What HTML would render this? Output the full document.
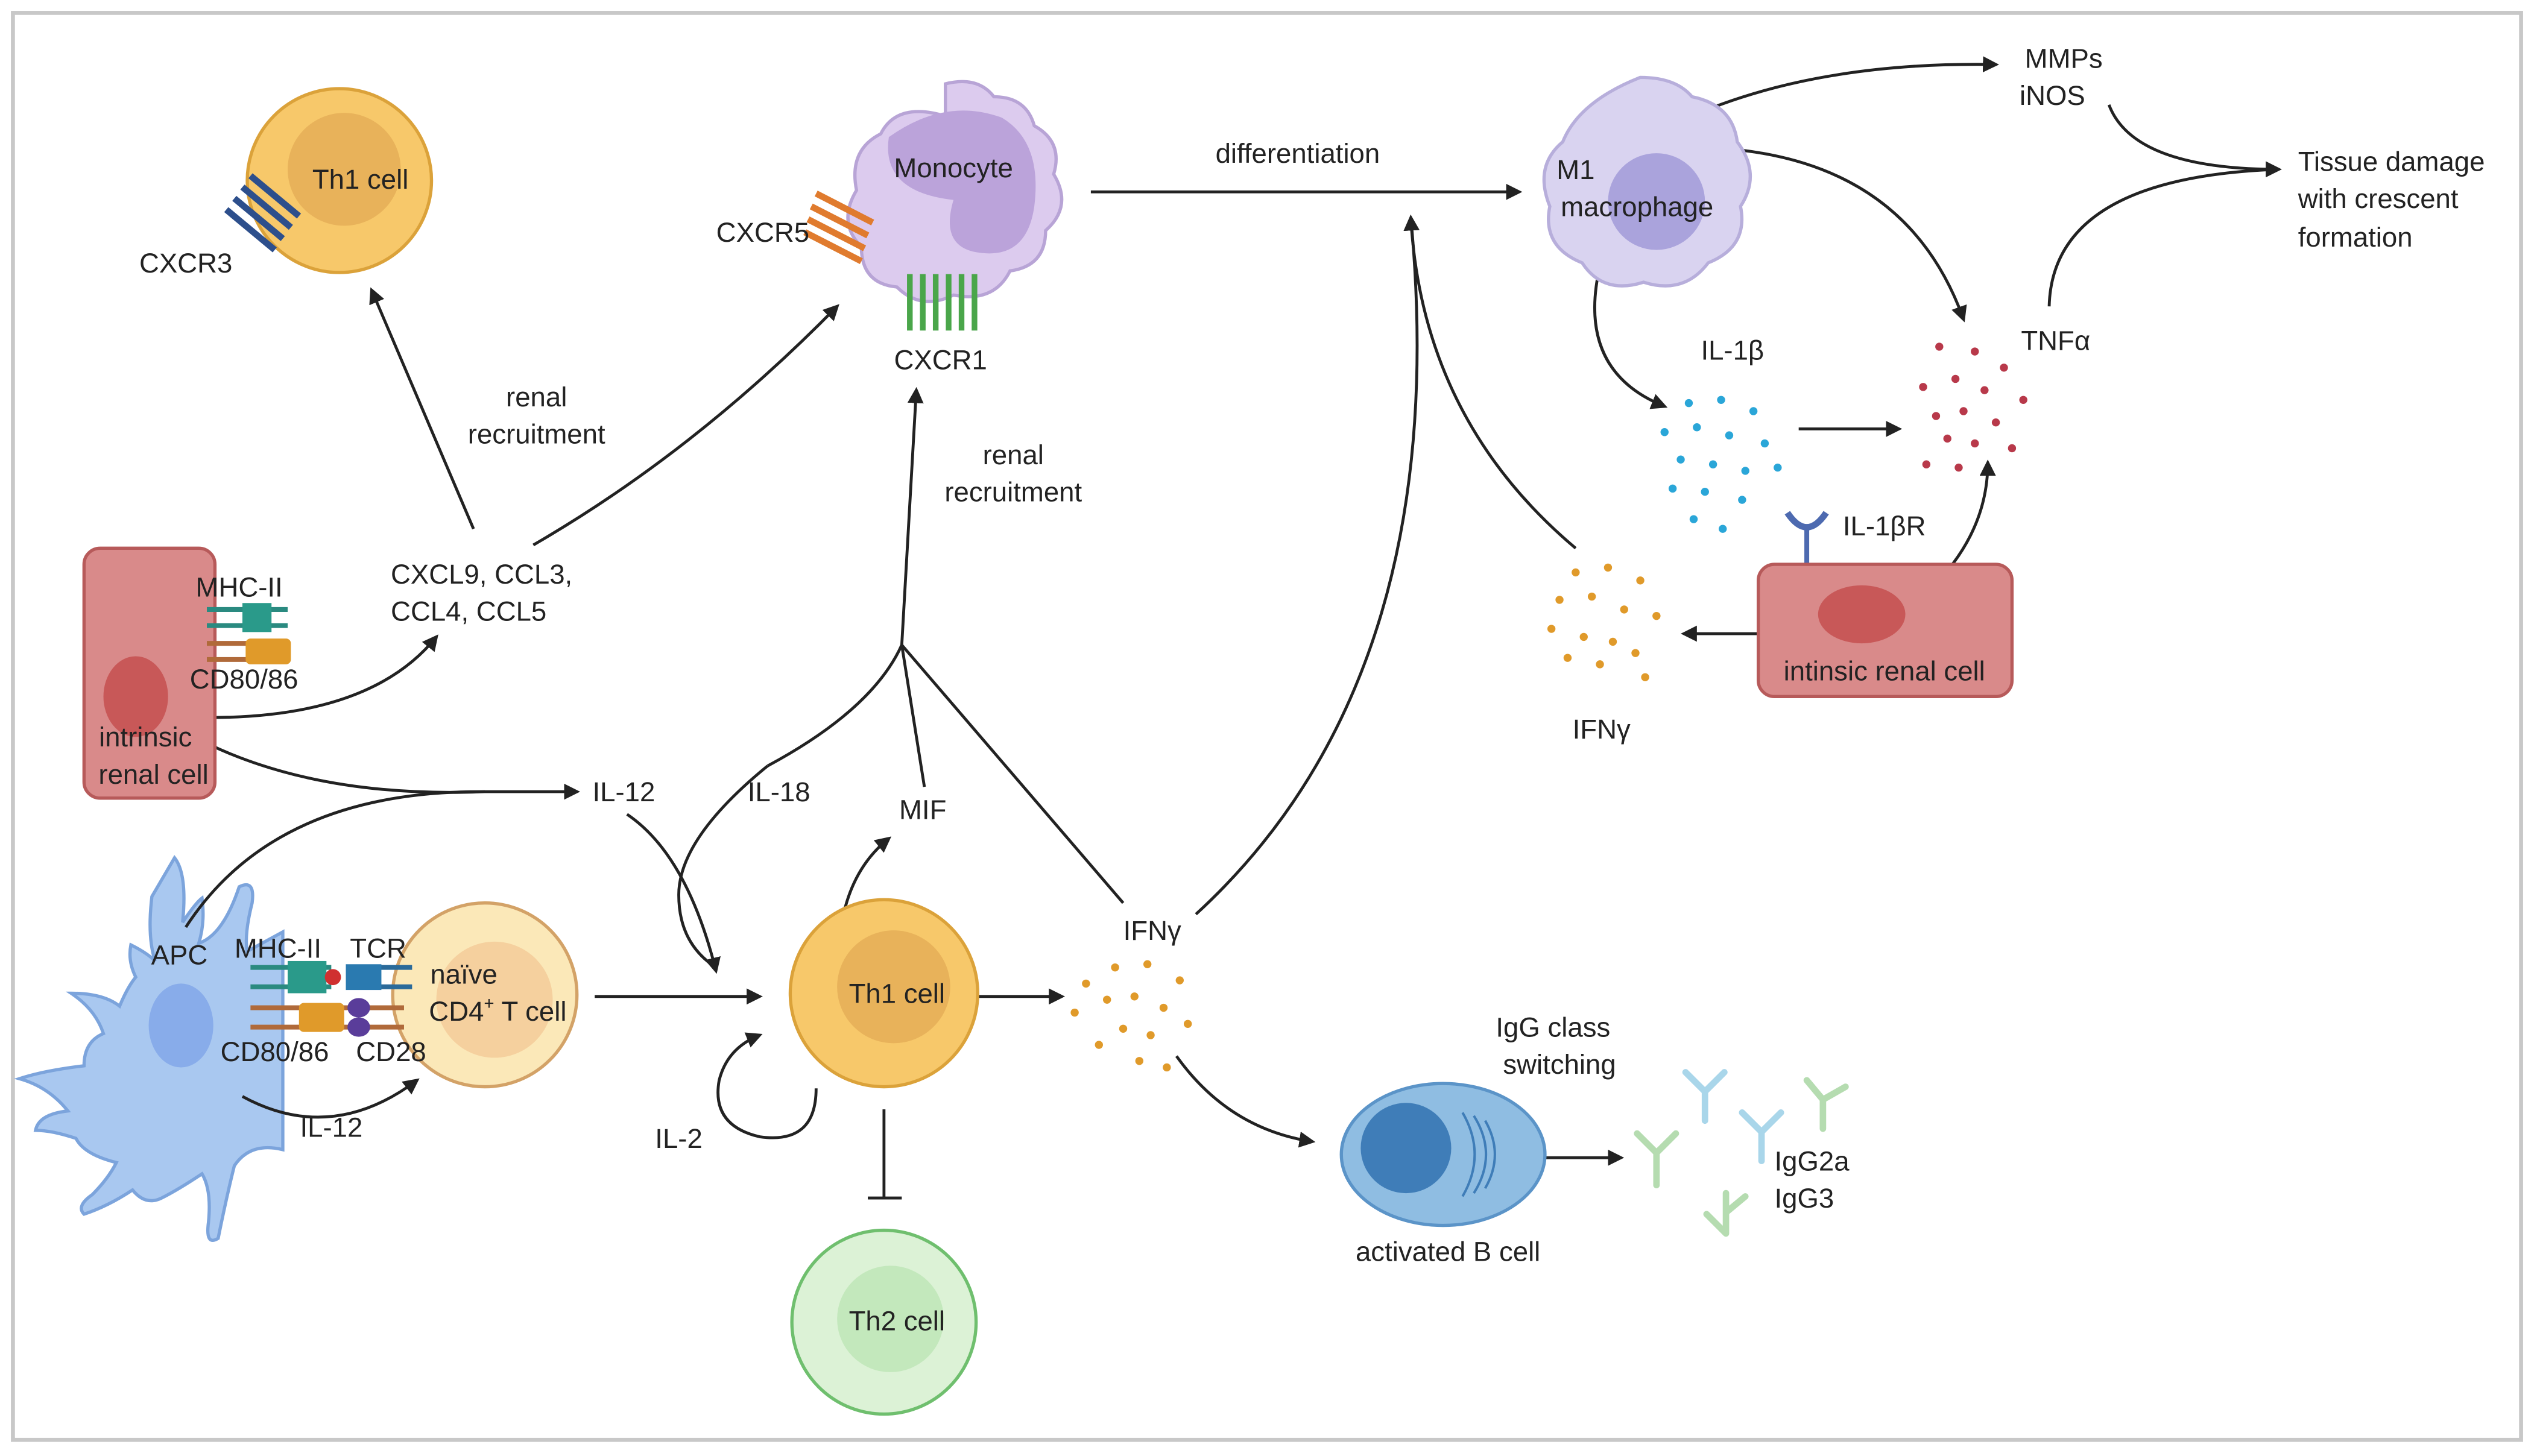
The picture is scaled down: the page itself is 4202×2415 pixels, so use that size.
<!DOCTYPE html>
<html><head><meta charset="utf-8"><style>
html,body{margin:0;padding:0;background:#fff;}
svg{display:block;}
text{font-family:"Liberation Sans",sans-serif;font-size:17px;fill:#222;}
</style></head><body>
<svg width="4202" height="2415" viewBox="0 0 1568 903" preserveAspectRatio="none" xmlns="http://www.w3.org/2000/svg">
<defs>
<marker id="a" markerWidth="10" markerHeight="10" refX="8" refY="5" orient="auto" markerUnits="userSpaceOnUse"><path d="M0,0 L10,5 L0,10 Z" fill="#222"/></marker>
</defs>
<rect x="8" y="8" width="1552" height="885" fill="#fff" stroke="#c8c8c8" stroke-width="2.5"/>

<!-- APC (drawn first so lines overlay) -->
<path d="M108,532 q8,10 5,40 q8,-12 12,-15 q2,15 -2,28 q15,-5 25,-35 q10,-5 8,10 q-5,20 -3,30 l22,-12 l0,135 q-20,-5 -30,10 q-5,20 -10,45 q-8,5 -6,-10 q2,-20 -4,-30 q-15,10 -25,15 q-10,5 -18,-5 q-15,10 -30,15 q-5,-5 5,-12 q10,-10 15,-20 q-20,-5 -25,-15 q-15,-5 -25,-5 q2,-10 20,-12 q-12,-15 -30,-20 q15,-5 40,-8 q0,-15 12,-20 q-5,-15 -20,-25 q20,0 30,8 q5,-12 10,-18 q-5,-10 -3,-20 q10,5 15,10 q-5,-15 -2,-40Z" fill="#a9c8f0" stroke="#7ca4dc" stroke-width="2"/>
<ellipse cx="112" cy="636" rx="20" ry="26" fill="#88acea"/>

<g fill="none" stroke="#222" stroke-width="1.8">
<path d="M675,119 L940,119" marker-end="url(#a)"/>
<path d="M1040,75 Q1120,38 1235,40" marker-end="url(#a)"/>
<path d="M1305,65 Q1320,105 1410,105" marker-end="url(#a)"/>
<path d="M1268,190 Q1270,110 1410,105"/>
<path d="M1065,92 Q1180,100 1215,198" marker-end="url(#a)"/>
<path d="M990,165 Q975,230 1030,252" marker-end="url(#a)"/>
<path d="M1113,266 L1175,266" marker-end="url(#a)"/>
<path d="M1195,365 Q1230,330 1230,287" marker-end="url(#a)"/>
<path d="M1088,393 L1042,393" marker-end="url(#a)"/>
<path d="M975,340 Q880,260 873,135" marker-end="url(#a)"/>
<path d="M740,567 Q900,420 873,135"/>
<path d="M293,328 L230,180" marker-end="url(#a)"/>
<path d="M330,338 Q430,280 518,190" marker-end="url(#a)"/>
<path d="M130,445 Q230,445 270,395" marker-end="url(#a)"/>
<path d="M130,462 Q200,495 300,491 L357,491" marker-end="url(#a)"/>
<path d="M115,575 Q170,490 300,491"/>
<path d="M388,505 Q425,530 443,602" marker-end="url(#a)"/>
<path d="M475,475 Q420,520 420,555 Q420,585 443,600"/>
<path d="M475,475 Q540,440 558,400 L567,242" marker-end="url(#a)"/>
<path d="M558,400 L572,488"/>
<path d="M558,400 L695,560"/>
<path d="M368,618 L470,618" marker-end="url(#a)"/>
<path d="M520,578 Q525,540 550,520" marker-end="url(#a)"/>
<path d="M598,618 L657,618" marker-end="url(#a)"/>
<path d="M505,675 Q505,710 470,705 Q440,698 445,670 Q450,650 470,642" marker-end="url(#a)"/>
<path d="M547,688 L547,743"/>
<path d="M537,743 L558,743"/>
<path d="M728,655 Q760,700 812,708" marker-end="url(#a)"/>
<path d="M945,718 L1003,718" marker-end="url(#a)"/>
<path d="M150,680 Q205,710 258,670" marker-end="url(#a)"/>
</g>

<circle cx="210" cy="112" r="57" fill="#f7c86a" stroke="#dba23a" stroke-width="2"/>
<circle cx="213" cy="105" r="35" fill="#e8b25a"/>
<text x="223" y="117" text-anchor="middle">Th1 cell</text>
<g stroke="#2d4f8c" stroke-width="4" fill="none"><path d="M140,130 l30,25 M145,123 l30,25 M150,116 l30,25 M155,109 l30,25"/></g>
<text x="115" y="169" text-anchor="middle">CXCR3</text>

<path d="M585,52 q20,-5 30,8 q20,0 25,18 q18,10 12,30 q12,20 -5,35 q0,22 -22,25 q-10,20 -35,15 q-20,10 -35,-5 q-22,-2 -22,-25 q-15,-15 -3,-35 q-5,-25 15,-35 q10,-20 40,-11Z" fill="#dccbee" stroke="#b8a4d6" stroke-width="2"/>
<path d="M550,85 q35,-25 70,-12 q25,15 20,55 q-5,35 -38,28 q-20,-5 -12,-32 q-45,-5 -40,-39Z" fill="#bba3da"/>
<text x="590" y="110" text-anchor="middle">Monocyte</text>
<g stroke="#e07b2e" stroke-width="4" fill="none"><path d="M505,120 l35,18 M502,128 l35,18 M500,136 l35,18 M498,144 l35,18"/></g>
<text x="472" y="150" text-anchor="middle">CXCR5</text>
<g stroke="#4aa64a" stroke-width="3.5" fill="none"><path d="M563,170 v35 M571,170 v35 M579,170 v35 M587,170 v35 M595,170 v35 M603,170 v35"/></g>
<text x="582" y="229" text-anchor="middle">CXCR1</text>
<text x="803" y="101" text-anchor="middle">differentiation</text>

<path d="M1015,48 q22,0 32,12 q25,5 28,28 q15,20 2,40 q5,25 -20,35 q-15,20 -40,12 q-25,8 -38,-12 q-25,-10 -20,-35 q-10,-25 8,-40 q10,-25 48,-40Z" fill="#d9d3f0" stroke="#b7aedb" stroke-width="2"/>
<circle cx="1025" cy="125" r="30" fill="#aaa3dc"/>
<text x="975" y="111" text-anchor="middle">M1</text>
<text x="1013" y="134" text-anchor="middle">macrophage</text>
<text x="1277" y="42" text-anchor="middle">MMPs</text>
<text x="1270" y="65" text-anchor="middle">iNOS</text>
<text x="1422" y="106">Tissue damage</text>
<text x="1422" y="129">with crescent</text>
<text x="1422" y="153">formation</text>
<text x="1272" y="217" text-anchor="middle">TNFα</text>
<text x="1072" y="223" text-anchor="middle">IL-1β</text>
<text x="1166" y="332" text-anchor="middle">IL-1βR</text>
<text x="991" y="458" text-anchor="middle">IFNγ</text>

<g fill="#b8394a">
<circle cx="1200" cy="215" r="2.5"/><circle cx="1222" cy="218" r="2.5"/><circle cx="1240" cy="228" r="2.5"/><circle cx="1190" cy="240" r="2.5"/><circle cx="1210" cy="235" r="2.5"/><circle cx="1228" cy="242" r="2.5"/><circle cx="1252" cy="248" r="2.5"/><circle cx="1198" cy="258" r="2.5"/><circle cx="1215" cy="255" r="2.5"/><circle cx="1235" cy="262" r="2.5"/><circle cx="1205" cy="272" r="2.5"/><circle cx="1222" cy="275" r="2.5"/><circle cx="1245" cy="278" r="2.5"/><circle cx="1192" cy="288" r="2.5"/><circle cx="1212" cy="290" r="2.5"/>
</g>
<g fill="#2aa6d8">
<circle cx="1045" cy="250" r="2.5"/><circle cx="1065" cy="248" r="2.5"/><circle cx="1085" cy="255" r="2.5"/><circle cx="1030" cy="268" r="2.5"/><circle cx="1050" cy="265" r="2.5"/><circle cx="1070" cy="270" r="2.5"/><circle cx="1092" cy="275" r="2.5"/><circle cx="1040" cy="285" r="2.5"/><circle cx="1060" cy="288" r="2.5"/><circle cx="1080" cy="292" r="2.5"/><circle cx="1100" cy="290" r="2.5"/><circle cx="1035" cy="303" r="2.5"/><circle cx="1055" cy="305" r="2.5"/><circle cx="1078" cy="310" r="2.5"/><circle cx="1048" cy="322" r="2.5"/><circle cx="1066" cy="328" r="2.5"/>
</g>
<g fill="#e09a2a">
<circle cx="975" cy="355" r="2.5"/><circle cx="995" cy="352" r="2.5"/><circle cx="1015" cy="360" r="2.5"/><circle cx="965" cy="372" r="2.5"/><circle cx="985" cy="370" r="2.5"/><circle cx="1005" cy="378" r="2.5"/><circle cx="1025" cy="382" r="2.5"/><circle cx="960" cy="390" r="2.5"/><circle cx="980" cy="395" r="2.5"/><circle cx="998" cy="398" r="2.5"/><circle cx="970" cy="408" r="2.5"/><circle cx="990" cy="412" r="2.5"/><circle cx="1012" cy="405" r="2.5"/><circle cx="1018" cy="420" r="2.5"/>
<circle cx="672" cy="610" r="2.5"/><circle cx="690" cy="600" r="2.5"/><circle cx="710" cy="598" r="2.5"/><circle cx="730" cy="608" r="2.5"/><circle cx="685" cy="620" r="2.5"/><circle cx="702" cy="618" r="2.5"/><circle cx="720" cy="625" r="2.5"/><circle cx="665" cy="628" r="2.5"/><circle cx="695" cy="638" r="2.5"/><circle cx="712" cy="642" r="2.5"/><circle cx="735" cy="635" r="2.5"/><circle cx="680" cy="648" r="2.5"/><circle cx="705" cy="658" r="2.5"/><circle cx="722" cy="662" r="2.5"/>
</g>

<path d="M1106,318 q12,18 24,0" fill="none" stroke="#4d6ab0" stroke-width="4"/>
<path d="M1118,328 V355" stroke="#4d6ab0" stroke-width="3"/>
<rect x="1088" y="350" width="157" height="82" rx="10" fill="#d98a8a" stroke="#b75a5a" stroke-width="2"/>
<ellipse cx="1152" cy="381" rx="27" ry="18" fill="#c85858"/>
<text x="1166" y="422" text-anchor="middle">intinsic renal cell</text>

<rect x="52" y="340" width="81" height="155" rx="10" fill="#d98a8a" stroke="#b75a5a" stroke-width="2"/>
<ellipse cx="84" cy="432" rx="20" ry="25" fill="#c85858"/>
<g stroke-width="3"><path d="M128,378 h50 M128,388 h50" stroke="#2a8a80"/><rect x="150" y="374" width="18" height="18" fill="#2a9a8a"/>
<path d="M128,399 h50 M128,409 h50" stroke="#b06a3a"/><rect x="152" y="396" width="28" height="16" rx="3" fill="#e09a2a" stroke="none"/></g>
<text x="148" y="370" text-anchor="middle">MHC-II</text>
<text x="151" y="427" text-anchor="middle">CD80/86</text>
<text x="90" y="463" text-anchor="middle">intrinsic</text>
<text x="95" y="486" text-anchor="middle">renal cell</text>
<text x="298" y="362" text-anchor="middle">CXCL9, CCL3,</text>
<text x="290" y="385" text-anchor="middle">CCL4, CCL5</text>
<text x="332" y="252" text-anchor="middle">renal</text>
<text x="332" y="275" text-anchor="middle">recruitment</text>
<text x="627" y="288" text-anchor="middle">renal</text>
<text x="627" y="311" text-anchor="middle">recruitment</text>
<text x="386" y="497" text-anchor="middle">IL-12</text>
<text x="482" y="497" text-anchor="middle">IL-18</text>
<text x="571" y="508" text-anchor="middle">MIF</text>
<text x="713" y="583" text-anchor="middle">IFNγ</text>
<text x="420" y="712" text-anchor="middle">IL-2</text>
<text x="205" y="705" text-anchor="middle">IL-12</text>

<text x="111" y="598" text-anchor="middle">APC</text>
<circle cx="300" cy="617" r="57" fill="#fbe8b8" stroke="#d3a267" stroke-width="2"/>
<circle cx="306" cy="620" r="36" fill="#f5d09e"/>
<g stroke-width="3"><path d="M155,600 h50 M155,612 h50" stroke="#2a8a80"/><rect x="178" y="596" width="24" height="20" fill="#2a9a8a"/>
<circle cx="206" cy="606" r="5" fill="#d03030"/>
<path d="M215,600 h40 M215,612 h40" stroke="#2a6a9a"/><rect x="214" y="598" width="22" height="16" fill="#2a7ab0"/>
<path d="M155,625 h95 M155,637 h95" stroke="#b06a3a"/><rect x="185" y="622" width="28" height="18" rx="3" fill="#e09a2a" stroke="none"/>
<ellipse cx="222" cy="625" rx="7" ry="6" fill="#5a3d9a" stroke="none"/><ellipse cx="222" cy="637" rx="7" ry="6" fill="#5a3d9a" stroke="none"/></g>
<text x="172" y="594" text-anchor="middle">MHC-II</text>
<text x="234" y="594" text-anchor="middle">TCR</text>
<text x="170" y="658" text-anchor="middle">CD80/86</text>
<text x="242" y="658" text-anchor="middle">CD28</text>
<text x="287" y="610" text-anchor="middle">naïve</text>
<text x="308" y="633" text-anchor="middle">CD4<tspan dy="-7" font-size="11">+</tspan><tspan dy="7"> T cell</tspan></text>

<circle cx="547" cy="616" r="58" fill="#f7c86a" stroke="#dba23a" stroke-width="2"/>
<circle cx="553" cy="612" r="35" fill="#e8b25a"/>
<text x="555" y="622" text-anchor="middle">Th1 cell</text>
<circle cx="547" cy="820" r="57" fill="#dcf2d6" stroke="#6fbf6e" stroke-width="2"/>
<circle cx="551" cy="818" r="33" fill="#c3e8bc"/>
<text x="555" y="825" text-anchor="middle">Th2 cell</text>

<ellipse cx="893" cy="716" rx="63" ry="44" fill="#8fbde2" stroke="#5b94c8" stroke-width="2"/>
<circle cx="870" cy="712" r="28" fill="#3f7db8"/>
<g fill="none" stroke="#3f7db8" stroke-width="1.5"><path d="M905,690 q15,26 0,52 M912,692 q15,24 0,48 M919,695 q12,21 0,42"/></g>
<text x="896" y="782" text-anchor="middle">activated B  cell</text>
<text x="961" y="643" text-anchor="middle">IgG class</text>
<text x="965" y="666" text-anchor="middle">switching</text>
<text x="1098" y="726">IgG2a</text>
<text x="1098" y="749">IgG3</text>
<g fill="none" stroke-width="4" stroke-linecap="round">
<path d="M1025,735 v-20 l-12,-12 M1025,715 l12,-12" stroke="#b5dcb0"/>
<path d="M1055,695 v-18 l-12,-12 M1055,677 l12,-12" stroke="#a9d6ea"/>
<path d="M1090,720 v-18 l-12,-12 M1090,702 l12,-12" stroke="#a9d6ea"/>
<path d="M1128,700 v-18 l-10,-12 M1128,682 l14,-8" stroke="#b5dcb0"/>
<path d="M1068,765 l-12,-12 M1068,765 v-25 M1068,752 l12,-10" stroke="#b5dcb0"/>
</g>
</svg>
</body></html>
